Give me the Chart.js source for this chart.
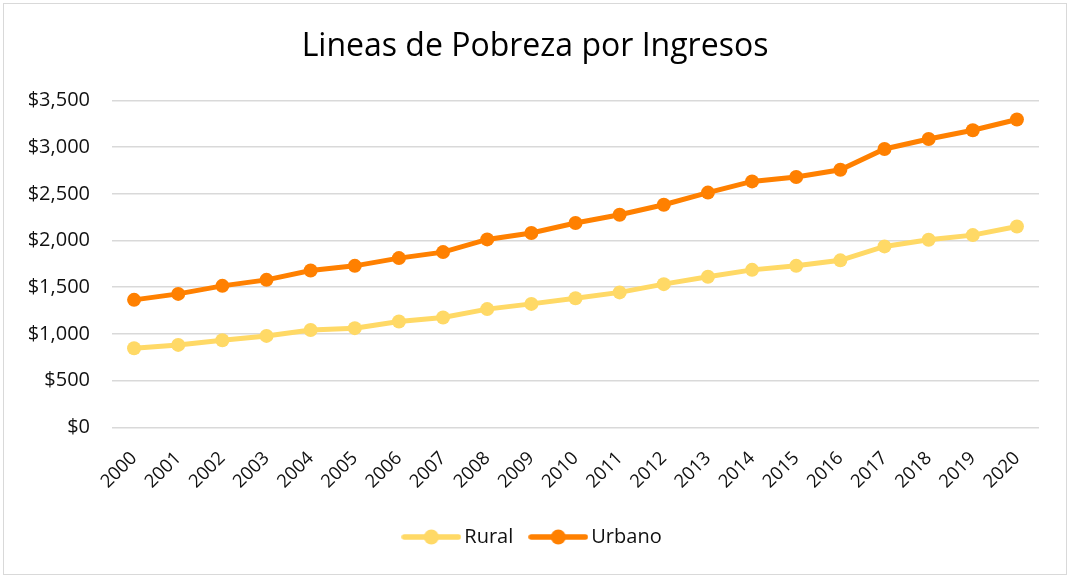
<!DOCTYPE html>
<html>
<head>
<meta charset="utf-8">
<script src="https://cdn.jsdelivr.net/npm/chart.js@4.4.1/dist/chart.umd.min.js"></script>
<style>
  html, body { margin: 0; padding: 0; background: #fff; }
  #frame {
    position: absolute; left: 3px; top: 3px;
    width: 1062px; height: 570px;
    border: 1px solid #d9d9d9;
  }
</style>
</head>
<body>
<div id="frame"><canvas id="chart"></canvas></div>
<script>
// years on the x axis
const years = ['2000', '2001', '2002', '2003', '2004', '2005', '2006', '2007', '2008', '2009', '2010',
  '2011', '2012', '2013', '2014', '2015', '2016', '2017', '2018', '2019', '2020'];

// poverty lines
const rural = [847, 883, 932, 979, 1043, 1062, 1133, 1176, 1266, 1322, 1383,
  1445, 1533, 1612, 1686, 1729, 1788, 1937, 2008, 2058, 2151];
const urbano = [1365, 1429, 1515, 1579, 1679, 1729, 1812, 1876, 2012, 2080, 2187,
  2276, 2383, 2513, 2633, 2680, 2758, 2980, 3087, 3180, 3295];

const yTicks = [0, 500, 1000, 1500, 2000, 2500, 3000, 3500];

const ruralColor = '#FFD966';
const urbanoColor = '#FF8000';

// small line+dot picture for the legend, like the spreadsheet one
function legendMark(color) {
  const c = document.createElement('canvas');
  c.width = 60; c.height = 18;
  const g = c.getContext('2d');
  g.strokeStyle = color;
  g.lineWidth = 5.5;
  g.lineCap = 'round';
  g.beginPath(); g.moveTo(3, 9); g.lineTo(57, 9); g.stroke();
  g.fillStyle = color;
  g.beginPath(); g.arc(30, 9, 7.5, 0, Math.PI * 2); g.fill();
  return c;
}

const ctx = document.getElementById('chart').getContext('2d');
ctx.canvas.width = 1062;
ctx.canvas.height = 570;

new Chart(ctx, {
  type: 'line',
  data: {
    labels: years,
    datasets: [{
      label: 'Rural',
      data: rural,
      borderColor: ruralColor,
      backgroundColor: ruralColor,
      pointBackgroundColor: ruralColor,
      borderWidth: 5,
      pointRadius: 7,
      pointBorderWidth: 0,
      tension: 0
    }, {
      label: 'Urbano',
      data: urbano,
      borderColor: urbanoColor,
      backgroundColor: urbanoColor,
      pointBackgroundColor: urbanoColor,
      borderWidth: 5,
      pointRadius: 7,
      pointBorderWidth: 0,
      tension: 0
    }]
  },
  options: {
    responsive: false,
    animation: false,
    layout: { padding: { top: 14, left: 0, right: 0, bottom: 17 } },
    plugins: {
      title: {
        display: true,
        text: 'Lineas de Pobreza por Ingresos',
        color: '#000',
        font: { family: 'Open Sans', size: 32, weight: 'normal' },
        padding: { top: 10, bottom: 34 }
      },
      legend: {
        position: 'bottom',
        labels: {
          usePointStyle: true,
          pointStyleWidth: 46,
          color: '#111',
          font: { family: 'Open Sans', size: 20 },
          padding: 22,
          generateLabels: chart => {
            const items = Chart.defaults.plugins.legend.labels.generateLabels(chart);
            items.forEach(it => {
              it.pointStyle = legendMark(chart.data.datasets[it.datasetIndex].borderColor);
            });
            return items;
          }
        }
      },
      tooltip: { enabled: false }
    },
    scales: {
      x: {
        offset: true,
        grid: { display: false },
        border: { display: false },
        ticks: {
          color: '#111',
          font: { family: 'Open Sans', size: 18.5 },
          maxRotation: 45,
          minRotation: 45,
          padding: 12
        }
      },
      y: {
        min: 0,
        max: 3500,
        afterBuildTicks: axis => { axis.ticks = yTicks.map(v => ({ value: v })); },
        afterFit: axis => { axis.width = 108; },
        grid: { color: '#d9d9d9', lineWidth: 1.5, drawTicks: false },
        border: { display: false },
        ticks: {
          color: '#111',
          font: { family: 'Open Sans', size: 20 },
          padding: 22,
          callback: v => '$' + v.toLocaleString('en-US')
        }
      },
      // empty strip on the right so the plot ends where the reference does
      yRight: {
        position: 'right',
        grid: { display: false },
        border: { display: false },
        ticks: { display: false },
        afterFit: axis => { axis.width = 27; }
      }
    }
  }
});
</script>
</body>
</html>
